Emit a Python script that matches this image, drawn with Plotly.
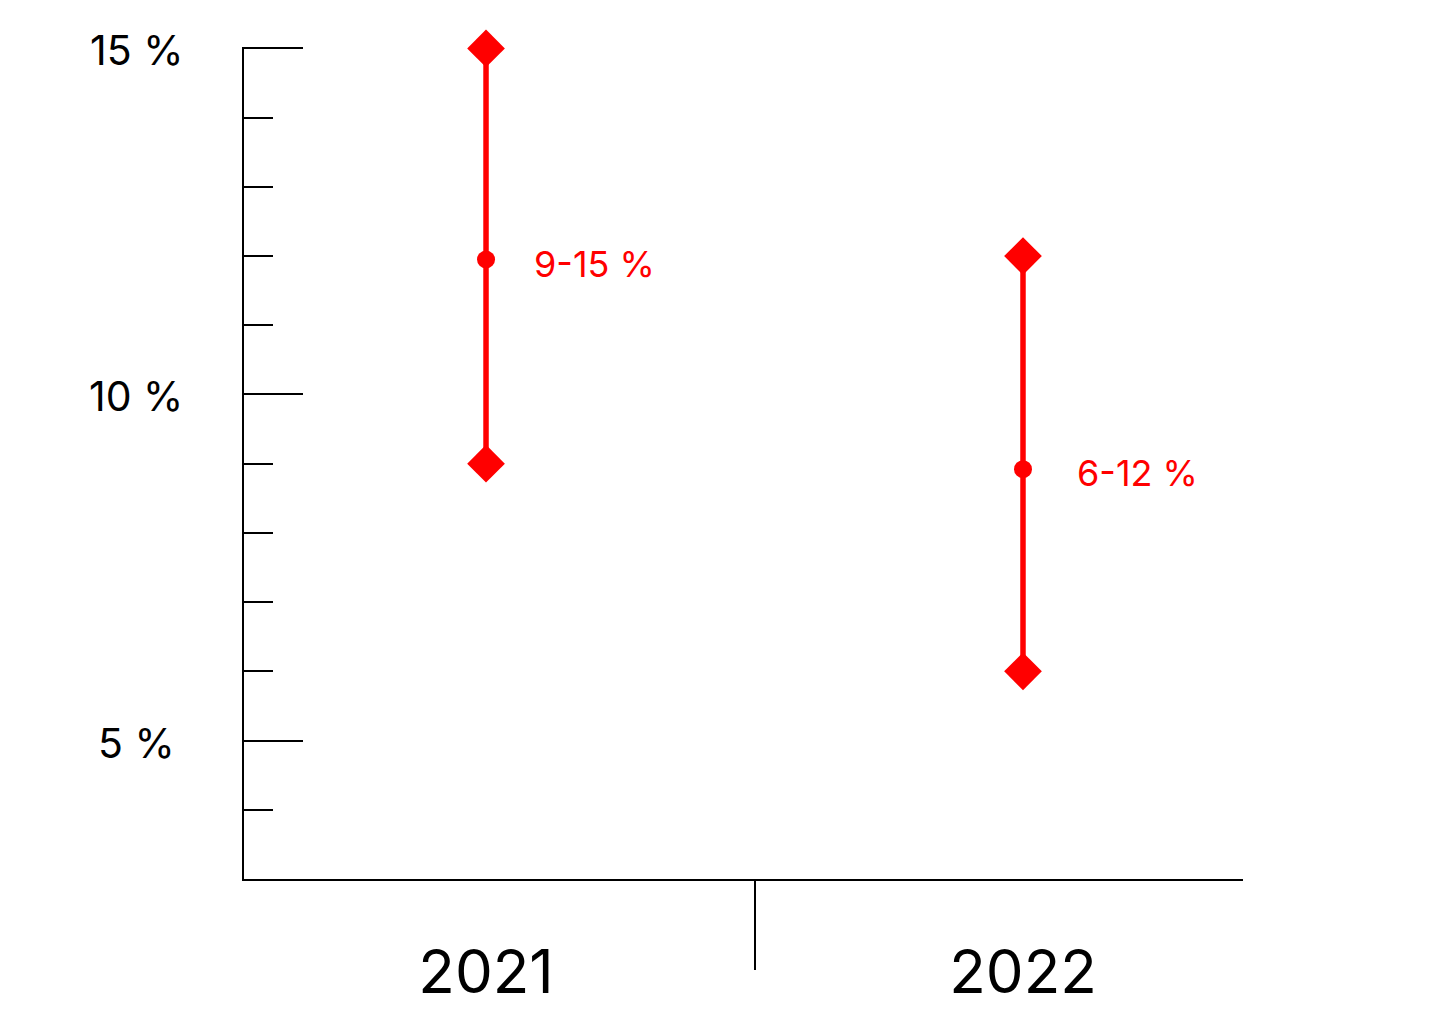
import plotly.graph_objects as go

years = ["2021", "2022"]
x_pos = [0, 1]
low = [9, 6]
high = [15, 12]
mid = [11.95, 8.92]
range_labels = ["9-15 %", "6-12 %"]
y_major = [5, 10, 15]
y_major_text = ["5 %", "10 %", "15 %"]

RED = "#ff0000"
FONT = "Inter, Roboto, sans-serif"

fig = go.Figure()
for i in range(len(years)):
    fig.add_trace(go.Scatter(
        x=[x_pos[i], x_pos[i]], y=[low[i], high[i]], mode="lines+markers",
        line=dict(color=RED, width=5.5),
        marker=dict(symbol="diamond", size=29, color=RED),
        cliponaxis=False, showlegend=False, hoverinfo="skip"))
    fig.add_trace(go.Scatter(
        x=[x_pos[i]], y=[mid[i]], mode="markers",
        marker=dict(symbol="circle", size=18, color=RED),
        cliponaxis=False, showlegend=False, hoverinfo="skip"))
    fig.add_annotation(x=x_pos[i], y=mid[i], text=range_labels[i], showarrow=False,
                       xanchor="left", yanchor="middle", xshift=[46, 52][i], yshift=-4,
                       font=dict(family=FONT, size=36, color=RED))

for v, t in zip(y_major, y_major_text):
    fig.add_annotation(x=-0.108, xref="paper", y=v, yref="y", text=t, showarrow=False,
                       xanchor="center", yanchor="middle", yshift=-2,
                       font=dict(family=FONT, size=41, color="black"))

fig.update_layout(
    width=1455, height=1023,
    margin=dict(l=236, r=220, t=39, b=152, autoexpand=False),
    plot_bgcolor="white", paper_bgcolor="white",
    xaxis=dict(range=[-0.4507, 1.4097], tickvals=x_pos, ticktext=years,
               ticks="", showgrid=False, zeroline=False, automargin=False,
               showline=True, linecolor="black", linewidth=2,
               tickfont=dict(family=FONT, size=60, color="black"),
               ticklabelstandoff=40,
               minor=dict(tickvals=[0.5], ticks="outside", ticklen=89,
                          tickwidth=2, tickcolor="black", showgrid=False)),
    yaxis=dict(range=[3, 15.02], tickvals=y_major, showticklabels=False,
               ticks="inside", ticklen=59, tickwidth=2, tickcolor="black",
               showgrid=False, zeroline=False, automargin=False,
               showline=True, linecolor="black", linewidth=2,
               minor=dict(dtick=1, tick0=0, ticks="inside", ticklen=29,
                          tickwidth=2, tickcolor="black", showgrid=False)),
)

fig.write_html("out.html")
